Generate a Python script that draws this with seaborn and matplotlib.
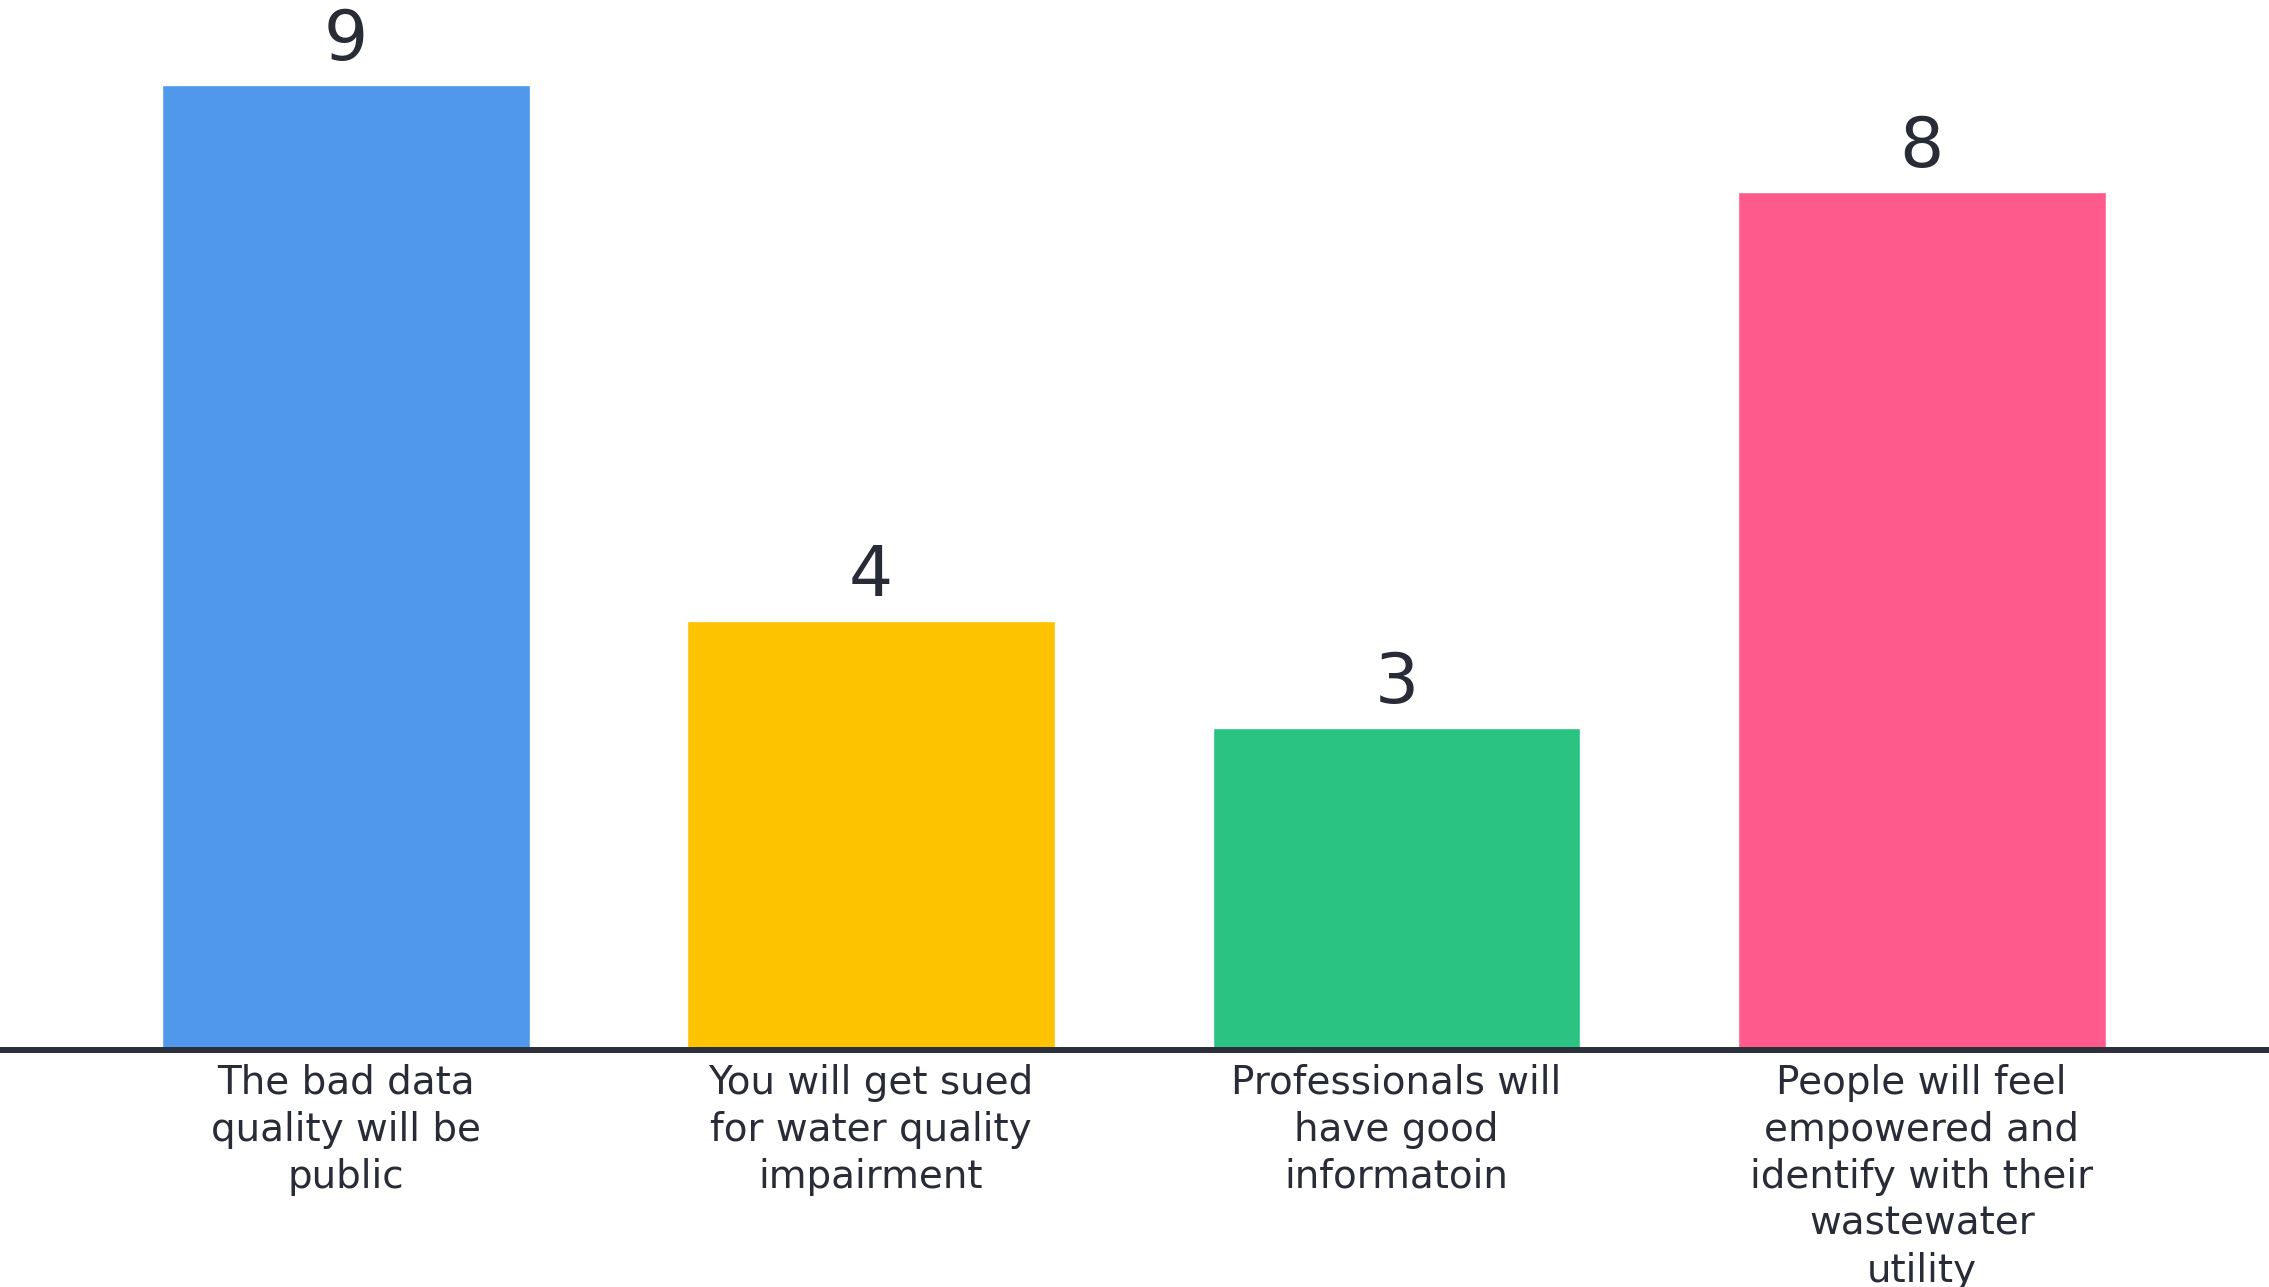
import matplotlib
matplotlib.use("Agg")
import matplotlib.pyplot as plt
import seaborn as sns
import pandas as pd

categories = [
    "The bad data\nquality will be\npublic",
    "You will get sued\nfor water quality\nimpairment",
    "Professionals will\nhave good\ninformatoin",
    "People will feel\nempowered and\nidentify with their\nwastewater\nutility",
]
values = [9, 4, 3, 8]
colors = ["#4F98EC", "#FDC200", "#2AC381", "#FF5A8C"]

sns.set_theme(style="white")
plt.rcParams["font.family"] = ["DejaVu Sans"]
text_color = "#282C37"

df = pd.DataFrame({"cat": categories, "val": values})

fig = plt.figure(figsize=(22.69, 12.87), dpi=100)
ax = fig.add_axes([0, 0.1841, 1, 0.8159])
sns.barplot(data=df, x="cat", y="val", hue="cat", palette=colors,
            width=0.70, saturation=1, legend=False, ax=ax)

ax.set_xlim(-0.658, 3.661)
ax.set_ylim(0, 9.79)
ax.set_xlabel("")
ax.set_ylabel("")
ax.set_yticks([])
for s in ["top", "left", "right"]:
    ax.spines[s].set_visible(False)
ax.spines["bottom"].set_color("#2A2F3A")
ax.spines["bottom"].set_linewidth(4.3)
ax.spines["bottom"].set_zorder(5)
ax.tick_params(axis="x", length=0, pad=10)
for lbl in ax.get_xticklabels():
    lbl.set_fontsize(28)
    lbl.set_color(text_color)
    lbl.set_linespacing(1.3)
    lbl.set_verticalalignment("top")

for cont in ax.containers:
    ax.bar_label(cont, fmt="%d", padding=8, fontsize=50, color=text_color)

fig.savefig("out.png", dpi=100, facecolor="white")
